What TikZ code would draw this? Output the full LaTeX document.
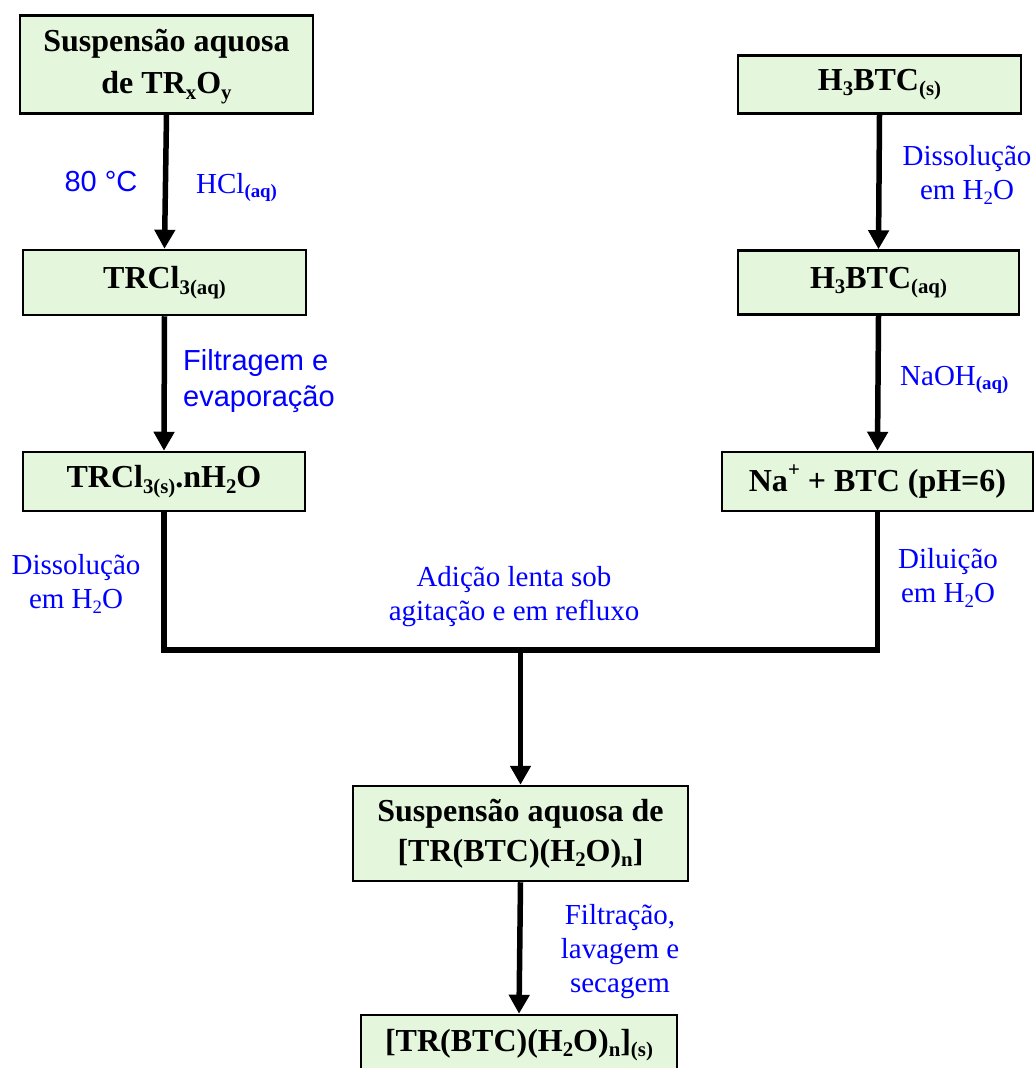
\documentclass[tikz,border=0pt]{standalone}
\usepackage{fontspec}
\setmainfont{Liberation Serif}
\newfontfamily\arialf{Liberation Sans}
\usepackage{graphicx}
\usetikzlibrary{arrows.meta}
\newcommand\dn[1]{\raisebox{-0.17em}{\scalebox{0.65}{#1}}}
\newcommand\up[1]{\raisebox{0.45em}{\scalebox{0.65}{#1}}}
\definecolor{boxfill}{RGB}{228,246,220}
\begin{document}
\begin{tikzpicture}[x=1pt,y=-1pt,
 box/.style={draw=black, line width=2.5pt, fill=boxfill, inner sep=0pt, align=center,
   font=\fontsize{32}{41}\selectfont\bfseries},
 lbl/.style={text=blue, inner sep=0pt, font=\fontsize{29}{34}\selectfont},
 lbls/.style={text=blue, inner sep=0pt, font=\fontsize{29}{36}\selectfont\arialf},
 arr/.style={line width=5.5pt, -{Triangle[width=20pt,length=19pt]}},
 thk/.style={line width=5.5pt}]
\useasboundingbox (0,0) rectangle (1035,1068);
% boxes
\node[box, minimum width=293pt, minimum height=98pt] (n1) at (166.5,64.5)
  {\fontsize{32}{42}\selectfont\raisebox{-3pt}{\begin{tabular}{@{}c@{}}Suspensão aquosa\\de TR\dn{x}O\dn{y}\end{tabular}}};
\node[box, minimum width=283pt, minimum height=58pt] (n2) at (879.5,84.5) {H\dn{3}BTC\dn{(s)}};
\node[box, minimum width=283pt, minimum height=65pt] (n3) at (164.5,282.5) {TRCl\dn{3(aq)}};
\node[box, minimum width=281pt, minimum height=64pt] (n4) at (878.5,282.5) {H\dn{3}BTC\dn{(aq)}};
\node[box, minimum width=282pt, minimum height=59pt] (n5) at (164,481.5) {TRCl\dn{3(s)}.nH\dn{2}O};
\node[box, minimum width=311pt, minimum height=59pt] (n6) at (877.5,481.5) {Na\up{+} + BTC (pH=6)};
\node[box, minimum width=335pt, minimum height=95pt] (n7) at (520.5,833.5)
  {\fontsize{32}{40}\selectfont\raisebox{-5pt}{\begin{tabular}{@{}c@{}}Suspensão aquosa de\\{}[TR(BTC)(H\dn{2}O)\dn{n}]\end{tabular}}};
\node[box, minimum width=316pt, minimum height=60pt] (n8) at (519,1045) {[TR(BTC)(H\dn{2}O)\dn{n}]\dn{(s)}};
% labels
\node[lbls] (l1) at (101,182) {80 °C};
\node[lbl, anchor=base west] (l2) at (196,193) {HCl\dn{\bfseries(aq)}};
\node[lbls, align=left, anchor=west] (l3) at (183,381) {Filtragem e\\evaporação};
\node[lbl, align=center] (l4) at (76,584) {Dissolução\\em H\dn{2}O};
\node[lbl, align=center] (l5) at (967,175) {Dissolução\\em H\dn{2}O};
\node[lbl, anchor=base west] (l6) at (900,385) {NaOH\dn{\bfseries(aq)}};
\node[lbl, align=center] (l7) at (948,578) {Diluição\\em H\dn{2}O};
\node[lbl, align=center] (l8) at (514,597) {Adição lenta sob\\agitação e em refluxo};
\node[lbl, align=center] (l9) at (620,952) {Filtração,\\lavagem e\\secagem};
% connectors
\coordinate (hy) at (0,650);
\draw[arr] (n1.south) -- (n3.north);
\draw[arr] (n3.south) -- (n5.north);
\draw[arr] (n2.south) -- (n4.north);
\draw[arr] (n4.south) -- (n6.north);
\draw[thk] (n5.south) -- (n5.south |- hy) -- (n6.south |- hy) -- (n6.south);
\draw[arr] (n7.north |- hy) -- (n7.north);
\draw[arr] (n7.south) -- (n8.north);
\end{tikzpicture}
\end{document}
